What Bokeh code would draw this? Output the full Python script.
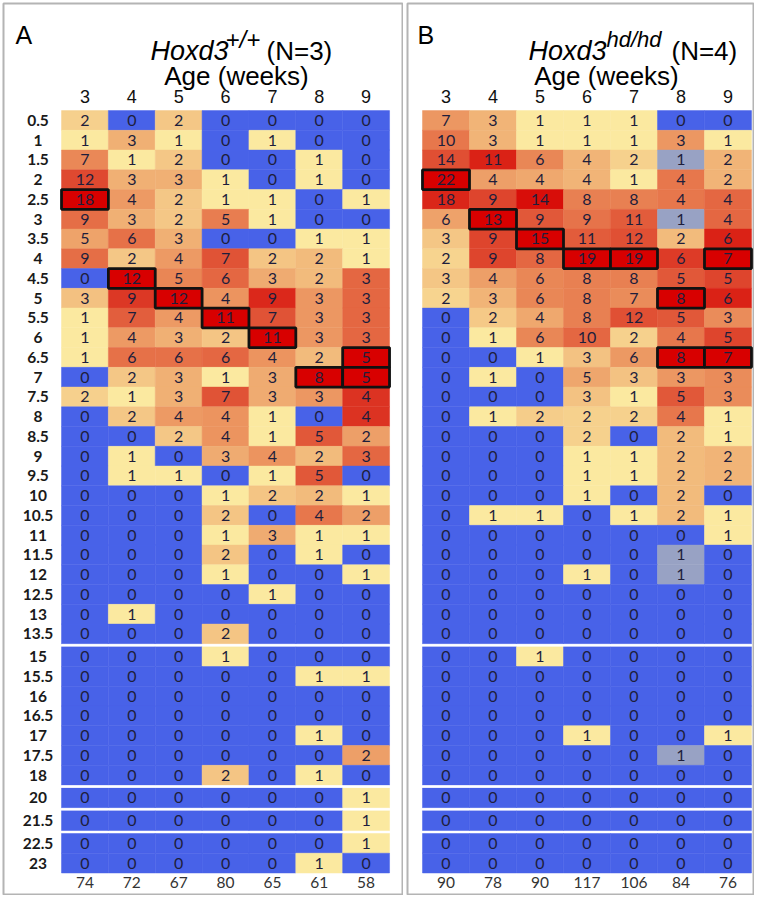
from bokeh.plotting import figure
from bokeh.layouts import row
from bokeh.models import Range1d, ColumnDataSource
from bokeh.core.properties import value
from bokeh.embed import file_html
from bokeh.resources import INLINE

# ---------------- data ----------------
ages = ["3", "4", "5", "6", "7", "8", "9"]
row_labels = ["0.5", "1", "1.5", "2", "2.5", "3", "3.5", "4", "4.5", "5", "5.5", "6",
              "6.5", "7", "7.5", "8", "8.5", "9", "9.5", "10", "10.5", "11", "11.5",
              "12", "12.5", "13", "13.5", "15", "15.5", "16", "16.5", "17", "17.5",
              "18", "20", "21.5", "22.5", "23"]

wt_counts = [
    [2, 0, 2, 0, 0, 0, 0], [1, 3, 1, 0, 1, 0, 0], [7, 1, 2, 0, 0, 1, 0],
    [12, 3, 3, 1, 0, 1, 0], [18, 4, 2, 1, 1, 0, 1], [9, 3, 2, 5, 1, 0, 0],
    [5, 6, 3, 0, 0, 1, 1], [9, 2, 4, 7, 2, 2, 1], [0, 12, 5, 6, 3, 2, 3],
    [3, 9, 12, 4, 9, 3, 3], [1, 7, 4, 11, 7, 3, 3], [1, 4, 3, 2, 11, 3, 3],
    [1, 6, 6, 6, 4, 2, 5], [0, 2, 3, 1, 3, 8, 5], [2, 1, 3, 7, 3, 3, 4],
    [0, 2, 4, 4, 1, 0, 4], [0, 0, 2, 4, 1, 5, 2], [0, 1, 0, 3, 4, 2, 3],
    [0, 1, 1, 0, 1, 5, 0], [0, 0, 0, 1, 2, 2, 1], [0, 0, 0, 2, 0, 4, 2],
    [0, 0, 0, 1, 3, 1, 1], [0, 0, 0, 2, 0, 1, 0], [0, 0, 0, 1, 0, 0, 1],
    [0, 0, 0, 0, 1, 0, 0], [0, 1, 0, 0, 0, 0, 0], [0, 0, 0, 2, 0, 0, 0],
    [0, 0, 0, 1, 0, 0, 0], [0, 0, 0, 0, 0, 1, 1], [0, 0, 0, 0, 0, 0, 0],
    [0, 0, 0, 0, 0, 0, 0], [0, 0, 0, 0, 0, 1, 0], [0, 0, 0, 0, 0, 0, 2],
    [0, 0, 0, 2, 0, 1, 0], [0, 0, 0, 0, 0, 0, 1], [0, 0, 0, 0, 0, 0, 1],
    [0, 0, 0, 0, 0, 0, 1], [0, 0, 0, 0, 0, 1, 0],
]
wt_totals = [74, 72, 67, 80, 65, 61, 58]

hd_counts = [
    [7, 3, 1, 1, 1, 0, 0], [10, 3, 1, 1, 1, 3, 1], [14, 11, 6, 4, 2, 1, 2],
    [22, 4, 4, 4, 1, 4, 2], [18, 9, 14, 8, 8, 4, 4], [6, 13, 9, 9, 11, 1, 4],
    [3, 9, 15, 11, 12, 2, 6], [2, 9, 8, 19, 19, 6, 7], [3, 4, 6, 8, 8, 5, 5],
    [2, 3, 6, 8, 7, 8, 6], [0, 2, 4, 8, 12, 5, 3], [0, 1, 6, 10, 2, 4, 5],
    [0, 0, 1, 3, 6, 8, 7], [0, 1, 0, 5, 3, 3, 3], [0, 0, 0, 3, 1, 5, 3],
    [0, 1, 2, 2, 2, 4, 1], [0, 0, 0, 2, 0, 2, 1], [0, 0, 0, 1, 1, 2, 2],
    [0, 0, 0, 1, 1, 2, 2], [0, 0, 0, 1, 0, 2, 0], [0, 1, 1, 0, 1, 2, 1],
    [0, 0, 0, 0, 0, 0, 1], [0, 0, 0, 0, 0, 1, 0], [0, 0, 0, 1, 0, 1, 0],
    [0, 0, 0, 0, 0, 0, 0], [0, 0, 0, 0, 0, 0, 0], [0, 0, 0, 0, 0, 0, 0],
    [0, 0, 1, 0, 0, 0, 0], [0, 0, 0, 0, 0, 0, 0], [0, 0, 0, 0, 0, 0, 0],
    [0, 0, 0, 0, 0, 0, 0], [0, 0, 0, 1, 0, 0, 1], [0, 0, 0, 0, 0, 1, 0],
    [0, 0, 0, 0, 0, 0, 0], [0, 0, 0, 0, 0, 0, 0], [0, 0, 0, 0, 0, 0, 0],
    [0, 0, 0, 0, 0, 0, 0], [0, 0, 0, 0, 0, 0, 0],
]
hd_totals = [90, 78, 90, 117, 106, 84, 76]
# cells shaded grey in panel B (row label, age)
hd_grey_cells = [("1.5", "8"), ("3", "8"), ("11.5", "8"), ("12", "8"), ("17.5", "8")]

# ---------------- styling ----------------
BLUE = "#4862E8"
GREY = "#98A2C4"
HILITE = "#D80000"
TXT = "#1E1E3C"
STOPS = [(0.0, (251, 233, 160)), (0.25, (242, 188, 125)), (0.5, (233, 132, 84)),
         (0.75, (222, 70, 46)), (1.0, (214, 0, 0))]

UNIT_Y = 19.75
GAP = 0.15
FRAME_H = 892
Y_TOP = -5.924
Y_BOT = Y_TOP + FRAME_H / UNIT_Y


def heat(v, vmax):
    if v == 0:
        return BLUE
    t = (v - 1) / (vmax - 1) if vmax > 1 else 1.0
    t = t ** 0.7
    for (t0, c0), (t1, c1) in zip(STOPS[:-1], STOPS[1:]):
        if t <= t1:
            f = (t - t0) / (t1 - t0)
            r, g, b = (round(a + (bb - a) * f) for a, bb in zip(c0, c1))
            return "#%02X%02X%02X" % (r, g, b)
    return "#%02X%02X%02X" % STOPS[-1][1]


# row positions with small gaps where ages are skipped
ypos = []
separators = []
gaps = 0.0
prev = None
for i, lab in enumerate(row_labels):
    v = float(lab)
    if prev is not None and v - prev > 0.5:
        gaps += GAP
        separators.append(i)
    ypos.append(i + gaps)
    prev = v


def panel(counts, totals, grey, frame_w, border_left, col_px, x0, letter, letter_x,
          geno_x, geno_size, sup, sup_size, sup_x, ntext, n_x, age_x, row_axis):
    x_end = x0 + frame_w / col_px
    p = figure(width=frame_w + border_left, height=FRAME_H + 3,
               x_range=Range1d(x0, x_end), y_range=Range1d(Y_BOT, Y_TOP),
               output_backend="svg", toolbar_location=None,
               x_axis_location=None, y_axis_location=None,
               min_border=0, min_border_left=border_left, min_border_top=3,
               background_fill_color="white", border_fill_color="white")
    p.grid.visible = False
    p.outline_line_color = "#B4B4B4"
    p.outline_line_width = 2

    ncol = len(ages)
    xs, ys, cols, labs, hx, hy = [], [], [], [], [], []
    colmax = [max(r[j] for r in counts) for j in range(ncol)]
    for i, r in enumerate(counts):
        for j, v in enumerate(r):
            xs.append(j)
            ys.append(ypos[i])
            labs.append(str(v))
            if (row_labels[i], ages[j]) in grey:
                cols.append(GREY)
            else:
                cols.append(heat(v, colmax[j]))
            if v == colmax[j] and v > 0:
                hx.append(j)
                hy.append(ypos[i])
    src = ColumnDataSource(dict(x=xs, y=ys, c=cols, t=labs))
    p.rect(x="x", y="y", width=1.0, height=1.0, source=src, fill_color="c",
           line_color="c", line_width=0.5)
    hsrc = ColumnDataSource(dict(x=hx, y=hy))
    p.rect(x="x", y="y", width=1.0, height=1.0, source=hsrc, fill_color=HILITE,
           line_color="#111111", line_width=2.8)
    p.text(x="x", y="y", text="t", source=src, text_font=value("Lato"),
           text_font_size="16px", text_color=TXT, text_align="center",
           text_baseline="middle")

    # white separator lines at skipped ages
    for i in separators:
        yy = (ypos[i] + ypos[i - 1]) / 2
        p.line(x=[-0.5, ncol - 0.5], y=[yy, yy], line_color="white", line_width=2)

    # column headers and totals
    p.text(x=list(range(ncol)), y=[-1.24] * ncol, text=ages,
           text_font=value("Liberation Sans"), text_font_size="18px",
           text_color="#111111", text_align="center", text_baseline="middle")
    ybot = ypos[-1] + 0.98
    p.text(x=list(range(ncol)), y=[ybot] * ncol, text=[str(t) for t in totals],
           text_font=value("Lato"), text_font_size="15.5px", text_color="#333333",
           text_align="center", text_baseline="middle")
    if row_axis is not None:
        p.text(x=[row_axis] * len(row_labels), y=ypos, text=row_labels,
               text_font=value("Lato"), text_font_size="15.5px", text_font_style="bold",
               text_color="#1A1A1A", text_align="center", text_baseline="middle")

    # titles
    p.text(x=[letter_x], y=[-4.304], text=[letter], text_font=value("Liberation Sans"),
           text_font_size="25px", text_color="#000000", text_align="left",
           text_baseline="alphabetic")
    p.text(x=[geno_x], y=[-3.544], text=["Hoxd3"], text_font=value("Liberation Sans"),
           text_font_size=geno_size, text_font_style="italic", text_color="#000000",
           text_align="left", text_baseline="alphabetic")
    p.text(x=[sup_x], y=[-4.101], text=[sup], text_font=value("Liberation Sans"),
           text_font_size=sup_size, text_font_style="italic", text_color="#000000",
           text_align="left", text_baseline="alphabetic")
    p.text(x=[n_x], y=[-3.544], text=[ntext], text_font=value("Liberation Sans"),
           text_font_size="26px", text_color="#000000", text_align="left",
           text_baseline="alphabetic")
    p.text(x=[age_x], y=[-2.228], text=["Age (weeks)"], text_font=value("Liberation Sans"),
           text_font_size="26px", text_color="#000000", text_align="center",
           text_baseline="alphabetic")
    return p


pA = panel(wt_counts, wt_totals, [], 400, 3, 46.86, -1.738, "A", -1.482, 1.399, "27px",
           "+/+", "24px", 2.999, "(N=3)", 3.875, 3.234, -1.002)
pB = panel(hd_counts, hd_totals, hd_grey_cells, 347, 4, 47.0, -0.819, "B", -0.606, 1.755,
           "27px", "hd/hd", "22px", 3.415, "(N=4)", 4.798, 3.415, None)

layout = row(pA, pB, spacing=0)
open("out.html", "w").write(file_html(layout, INLINE))
